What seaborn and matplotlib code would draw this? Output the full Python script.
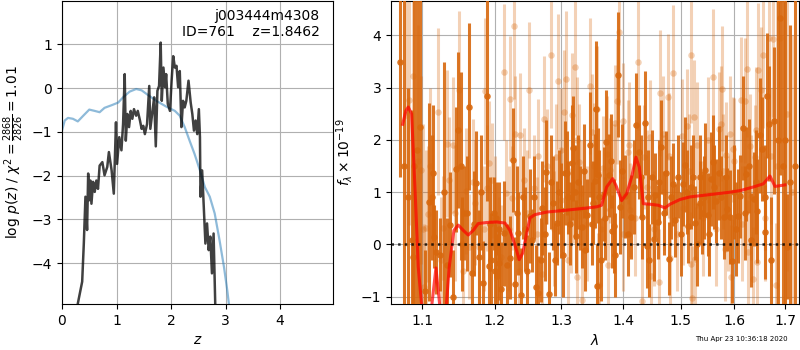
import numpy as np
import pandas as pd
import matplotlib
matplotlib.use("Agg")
import matplotlib.pyplot as plt
import seaborn as sns
from matplotlib.ticker import FixedLocator, FormatStrFormatter, NullLocator

# ---------------- data: redshift PDF panel ----------------
pz_z = [0.25, 0.29, 0.37, 0.40, 0.43, 0.46, 0.48, 0.50, 0.52, 0.54, 0.57, 0.60, 0.63, 0.66,
        0.69, 0.74, 0.78, 0.83, 0.86, 0.91, 0.95, 0.99, 1.01, 1.05, 1.09, 1.12, 1.15, 1.17,
        1.20, 1.23, 1.26, 1.29, 1.32, 1.36, 1.39, 1.43, 1.46, 1.49, 1.52, 1.56, 1.60, 1.62,
        1.66, 1.69, 1.72, 1.75, 1.78, 1.81, 1.83, 1.86, 1.89, 1.91, 1.94, 1.98, 2.01, 2.04,
        2.07, 2.10, 2.13, 2.16, 2.19, 2.22, 2.25, 2.28, 2.32, 2.36, 2.39, 2.42, 2.45, 2.48,
        2.51, 2.53, 2.54, 2.57, 2.60, 2.63, 2.66, 2.69, 2.72, 2.75, 2.78, 2.81, 2.84]
pz_logp = [-6.0, -4.92, -4.42, -3.55, -2.48, -3.24, -1.95, -2.56, -2.11, -2.64, -2.14, -2.37,
           -2.11, -2.30, -1.77, -1.69, -1.99, -1.80, -1.46, -1.88, -2.41, -0.78, -1.73, -1.12,
           -1.42, -0.82, 0.32, -1.20, -0.59, -0.89, -0.52, -0.70, -0.48, -0.63, -0.52, -0.74,
           -0.93, -0.86, -1.05, -0.82, 0.05, -0.93, -0.52, -0.21, -1.33, -0.06, 0.05, 1.04,
           -0.29, 0.47, 0.02, 0.32, -0.36, -0.52, 0.17, 0.73, 0.47, 0.51, 0.02, 0.39, -0.89,
           -0.29, -0.44, -0.29, 0.17, -0.33, -0.59, -0.97, -0.74, -1.05, -0.48, -1.12, -2.48,
           -1.88, -2.71, -3.55, -3.09, -3.70, -3.39, -4.23, -3.32, -4.92, -6.0]

chi_z = [0.0, 0.05, 0.11, 0.20, 0.29, 0.39, 0.50, 0.60, 0.69, 0.78, 0.91, 1.03, 1.12, 1.24,
         1.36, 1.46, 1.58, 1.73, 1.91, 2.07, 2.16, 2.25, 2.34, 2.43, 2.53, 2.62, 2.71, 2.80,
         2.89, 2.97, 3.03, 3.06, 3.12]
chi_logp = [-0.97, -0.74, -0.68, -0.70, -0.76, -0.63, -0.49, -0.52, -0.55, -0.45, -0.39,
            -0.33, -0.21, -0.08, -0.02, -0.05, -0.16, -0.29, -0.42, -0.52, -0.63, -0.89,
            -1.20, -1.50, -1.88, -2.26, -2.48, -2.86, -3.48, -4.08, -4.61, -4.92, -5.5]

# ---------------- data: spectrum panel ----------------
model_wave = [1.0744, 1.0786, 1.0817, 1.0860, 1.0904, 1.0947, 1.0991, 1.1040, 1.1124,
              1.1182, 1.1236, 1.1300, 1.1362, 1.1426, 1.1486, 1.1555, 1.1624, 1.1694,
              1.1765, 1.1883, 1.2027, 1.2148, 1.2221, 1.2294, 1.2358, 1.2408, 1.2468,
              1.2518, 1.2593, 1.2771, 1.3029, 1.3345, 1.3561, 1.3642, 1.3725, 1.3824,
              1.3879, 1.3974, 1.4058, 1.4143, 1.4216, 1.4273, 1.4342, 1.4457, 1.4603,
              1.4720, 1.4809, 1.4987, 1.5168, 1.5413, 1.5662, 1.5915, 1.6107, 1.6367,
              1.6564, 1.6697, 1.6798, 1.7001]
model_flux = [2.30, 2.56, 2.63, 2.50, 1.10, -0.43, -1.14, -1.60, -1.20, -0.45, -1.20,
              -1.60, -0.43, 0.27, 0.37, 0.27, 0.18, 0.27, 0.40, 0.42, 0.43, 0.41, 0.27,
              -0.01, -0.29, -0.17, 0.21, 0.51, 0.57, 0.62, 0.65, 0.69, 0.72, 0.75, 1.10,
              1.26, 1.13, 0.84, 0.97, 1.29, 1.67, 1.48, 0.78, 0.77, 0.75, 0.70, 0.77,
              0.86, 0.91, 0.94, 0.97, 1.00, 1.03, 1.10, 1.16, 1.31, 1.11, 1.14]

# dark (first beam) spectrum points
dark_wave = [1.0715, 1.0757, 1.0817, 1.0861, 1.0880, 1.0895, 1.0930, 1.0974,
             1.1030, 1.1093, 1.1146, 1.1160, 1.1182, 1.1240, 1.1295, 1.1377, 1.1418,
             1.1459, 1.1478, 1.1523, 1.1568, 1.1638, 1.1676, 1.1732, 1.1779, 1.1831,
             1.1884, 1.1913, 1.1945, 1.1983,
             1.2014, 1.2038, 1.2057, 1.2095, 1.2135, 1.2222, 1.2267, 1.2291, 1.2340,
             1.2380, 1.2419, 1.2479, 1.2520, 1.2555, 1.2605, 1.2646, 1.2707, 1.2768,
             1.2809, 1.2845, 1.2896, 1.2937, 1.2990, 1.3052, 1.3084, 1.3110, 1.3162,
             1.3189, 1.3237, 1.3263, 1.3332, 1.3359, 1.3412, 1.3455, 1.3503, 1.3530,
             1.3547, 1.3574,
             1.3584, 1.3633, 1.3676, 1.3721, 1.3759, 1.3814, 1.3842, 1.3908, 1.3942,
             1.4037, 1.4139, 1.4224, 1.4275, 1.4321, 1.4367, 1.4406, 1.4448, 1.4494,
             1.4552, 1.4599, 1.4652, 1.4740, 1.4788, 1.4859, 1.4907, 1.5045, 1.5086,
             1.5140, 1.5195, 1.5256, 1.5360,
             1.5347, 1.5396, 1.5451, 1.5501, 1.5550, 1.5594, 1.5656, 1.5700, 1.5801,
             1.5865, 1.5909, 1.5953, 1.6069, 1.6114, 1.6166, 1.6232, 1.6329, 1.6381,
             1.6446, 1.6492, 1.6539, 1.6593, 1.6645, 1.6672, 1.6713, 1.6773, 1.6895,
             1.7051, 1.6861, 1.6959, 1.7008, 1.7097, 1.7200,
             1.2060, 1.2180, 1.2320, 1.2450, 1.2580, 1.2680, 1.2740, 1.2870, 1.2960,
             1.3020, 1.3130, 1.3210, 1.3300, 1.3380, 1.3480, 1.3600, 1.3700, 1.3790,
             1.3870, 1.3980, 1.4080, 1.4180, 1.4300, 1.4430, 1.4520, 1.4620, 1.4700,
             1.4830, 1.4950, 1.5000, 1.5110, 1.5230, 1.5300, 1.5420, 1.5520, 1.5620,
             1.5750, 1.5840, 1.5990, 1.6030, 1.6200, 1.6280, 1.6420, 1.6600, 1.1130,
             1.1330, 1.1540, 1.1600, 1.1710, 1.1810, 1.1930, 1.2000]
dark_flux = [3.50, 1.50, 0.90, 0.08, -0.24, 1.50, 1.80, 2.25,
             -0.90, 0.81, 1.37, 0.15, -0.14, -0.20, 1.00, 0.38, -1.00,
             1.44, 2.19, 1.50, 0.60, 2.64, -0.54, 1.18, -0.24, -0.73,
             2.84, -0.41, -0.29, 0.60,
             0.50, -0.60, -0.36, -0.85, 0.21, -0.25, 1.62, -0.76, 0.21,
             -0.97, 0.90, -0.51, 0.54, 0.08, -0.82, -0.92, 0.70, 1.39,
             -0.94, 1.20, -0.29, 0.41, 0.65, 1.37, 1.37, 0.90, 1.56,
             1.84, 0.16, 1.20, 0.34, 1.40, 0.56, 1.91, 0.80, 1.22,
             2.60, -0.80,
             1.32, -0.29, 0.97, 1.96, 1.32, 0.25, 0.35, 3.25, 0.71,
             0.92, 0.53, 2.28, 1.77, 0.53, 2.32, -0.03, -0.30, 1.29,
             0.95, 0.43, 1.86, 1.37, -0.27, 1.15, 0.46, 1.16, 1.53,
             0.35, 1.10, 0.41, 0.80,
             1.29, 0.61, 1.43, 0.57, 1.25, 1.58, 0.83, 1.36, 0.52,
             0.67, 0.52, -0.32, 0.54, 0.92, 2.23, 1.34, 0.08, 0.87,
             0.64, 2.09, 1.83, 0.24, 2.85, 2.31, -0.30, 2.37, 4.33,
             -0.04, 2.00, 1.50, 2.00, 1.20, 1.50,
             0.3, -0.4, 0.6, 0.3, 0.9, -0.3, 0.2, 0.8, 1.0,
             -0.2, 0.4, 1.0, 0.7, -0.1, 0.4, 0.9, 0.5, 1.6,
             -0.2, 1.4, 0.2, 1.1, 1.3, 0.9, 0.1, 1.2, 0.6,
             0.9, 1.3, 0.2, 1.0, 1.3, 0.0, 0.9, 0.2, 1.1,
             0.9, 1.3, 1.0, 0.3, 0.6, 1.5, 1.2, 0.9, 0.9,
             -0.4, 0.0, 0.6, 0.4, 1.0, 0.4, -0.5]
dark_err = [2.2, 4.0, 2.1, 2.5, 1.8, 4.0, 3.2, 3.5,
            0.8, 1.9, 1.3, 0.6, 0.8, 0.7, 2.5, 1.0, 0.9,
            1.2, 1.5, 1.8, 0.9, 1.6, 0.9, 1.0, 0.9, 0.8,
            2.0, 0.8, 0.9, 0.7,
            0.7, 0.8, 0.7, 0.9, 1.0, 0.8, 1.0, 0.9, 0.8,
            0.9, 0.8, 0.7, 0.9, 0.6, 0.8, 0.7, 0.9, 1.0,
            0.8, 0.9, 0.7, 0.8, 0.9, 1.0, 0.8, 0.7, 1.1,
            1.0, 0.7, 0.9, 0.8, 0.9, 0.7, 1.0, 0.8, 0.9,
            1.3, 0.8,
            0.9, 0.8, 0.9, 1.0, 0.8, 0.7, 0.9, 1.2, 0.9,
            0.8, 0.8, 1.0, 0.9, 0.8, 1.0, 0.8, 0.7, 0.9,
            0.8, 0.7, 0.9, 0.8, 0.7, 0.8, 0.7, 0.8, 0.9,
            0.7, 0.8, 0.7, 0.8,
            0.8, 0.8, 0.9, 0.8, 0.9, 0.9, 0.8, 0.9, 0.8,
            0.8, 0.9, 0.8, 0.9, 0.8, 1.0, 0.9, 0.9, 0.9,
            1.0, 1.1, 1.0, 0.9, 1.2, 1.1, 1.2, 1.4, 3.0,
            1.0, 4.0, 4.0, 3.5, 3.0, 4.0,
            0.9, 0.8, 0.9, 0.8, 0.8, 0.8, 0.9, 0.9, 0.8,
            0.8, 0.8, 0.9, 0.8, 0.8, 0.8, 0.9, 0.8, 0.9,
            0.8, 0.9, 0.8, 0.9, 0.8, 0.9, 0.8, 0.8, 0.8,
            0.8, 0.8, 0.8, 0.8, 0.8, 0.8, 0.8, 0.8, 0.8,
            0.8, 0.8, 0.9, 0.9, 0.9, 0.9, 1.0, 1.0, 1.2,
            0.9, 0.9, 1.1, 1.0, 1.1, 0.9, 0.9]

# light (second beam) spectrum points
light_wave = [1.0787, 1.0830, 1.0874, 1.0947, 1.1004,
              1.0983, 1.1027, 1.1049, 1.1080, 1.1213, 1.1282, 1.1327, 1.1363, 1.1413,
              1.1500, 1.1593, 1.1630, 1.1686, 1.1780, 1.1865, 1.1889, 1.1922, 1.1960,
              1.2127, 1.2227, 1.2281, 1.2296, 1.2370, 1.2434, 1.2504, 1.2580, 1.2646,
              1.2737, 1.2845, 1.2917, 1.2948, 1.2990, 1.3042, 1.3078, 1.3162, 1.3189,
              1.3221, 1.3279, 1.3306, 1.3455, 1.3493, 1.3558, 1.2161, 1.2257, 1.2086,
              1.2707, 1.3332, 1.3242, 1.3146, 1.3585,
              1.3568, 1.3660, 1.3731, 1.3786, 1.3870, 1.3897, 1.3925, 1.3998, 1.4076,
              1.4121, 1.4258, 1.4350, 1.4466, 1.4483, 1.4611, 1.4640, 1.4687, 1.4776,
              1.4871, 1.5027, 1.5106, 1.5184, 1.5233, 1.5178, 1.5256, 1.5208, 1.4321,
              1.3595, 1.4817,
              1.5594, 1.5700, 1.5738, 1.5763, 1.5845, 1.5909, 1.5972, 1.6120, 1.6200,
              1.6251, 1.6310, 1.6394, 1.6466, 1.6525, 1.6558, 1.6679, 1.6760, 1.6895,
              1.6361, 1.6446, 1.6827, 1.5941, 1.5813, 1.6264,
              1.6830, 1.7040, 1.7150,
              1.1100, 1.1250, 1.1440, 1.1550, 1.1720, 1.1840, 1.2000, 1.2060, 1.2200,
              1.2350, 1.2480, 1.2620, 1.2780, 1.2880, 1.3000, 1.3100, 1.3250, 1.3400,
              1.3520, 1.3640, 1.3750, 1.3840, 1.4000, 1.4100, 1.4200, 1.4400, 1.4530,
              1.4700, 1.4800, 1.4930, 1.5050, 1.5150, 1.5300, 1.5400, 1.5500, 1.5650,
              1.5780, 1.5880, 1.6000, 1.6150, 1.6320, 1.6420, 1.6600, 1.6720]
light_flux = [2.47, 2.77, 3.23, 1.60, 0.30,
              1.43, -0.81, 0.31, 0.58, 2.54, 0.31, 1.93, 1.23, 1.90,
              2.96, 1.02, -0.04, 1.20, -0.04, 2.94, 1.08, 1.55, 1.23,
              3.30, 2.79, 4.19, 2.12, 2.09, 1.23, 2.95, 1.09, 1.69,
              2.40, 3.63, 1.68, 3.12, 0.85, 2.53, 3.16, 2.47, 1.02,
              3.40, 1.58, 0.99, 3.04, 2.16, 2.60, 0.99, 0.89, -0.24,
              -0.57, -1.06, -0.62, 0.46, -0.79,
              2.60, 1.46, 1.74, 1.42, 2.33, 2.74, 4.06, 2.37, 1.77,
              0.66, 3.49, 1.67, 2.05, -0.60, -0.71, 2.90, 2.12, 2.82,
              3.28, 2.07, 2.26, 3.63, 2.44, -0.38, -0.28, -1.03, -1.09,
              -0.78, -0.25,
              3.21, 2.21, 2.31, 2.98, 1.72, 2.12, 1.82, 2.77, 2.75,
              3.36, 1.88, 1.67, 3.33, 2.96, 3.63, 3.95, 3.94, 3.95,
              -0.67, -0.33, -0.78, -0.63, -0.08, -0.14,
              1.50, 2.50, 1.00,
              1.5, -0.3, 0.6, -0.5, 0.8, 0.3, 0.5, -0.3, 0.3,
              -0.5, 0.6, 0.2, 1.5, 0.3, 1.8, -0.3, 2.0, 0.4,
              1.5, 0.3, -0.4, 1.1, 0.2, 1.9, 0.5, 1.1, 0.3,
              1.0, 1.7, 0.2, 0.7, 1.4, 1.9, 0.5, 2.0, 0.3,
              1.4, 0.6, 1.6, 0.4, 0.9, 2.2, 0.5, 1.7]
light_err = [2.5, 2.4, 2.8, 2.6, 2.0,
             1.8, 1.2, 1.5, 1.3, 1.6, 1.0, 1.4, 1.2, 1.3,
             1.5, 1.2, 1.0, 1.2, 1.1, 1.4, 1.2, 1.2, 1.1,
             1.3, 1.2, 1.4, 1.1, 1.2, 1.0, 1.3, 1.0, 1.1,
             1.2, 1.4, 1.0, 1.3, 1.0, 1.2, 1.3, 1.2, 1.0,
             1.3, 1.1, 1.0, 1.3, 1.1, 1.2, 1.0, 1.0, 1.0,
             1.0, 1.0, 1.0, 1.0, 1.0,
             1.2, 1.0, 1.1, 1.0, 1.1, 1.2, 1.4, 1.1, 1.0,
             0.9, 1.3, 1.0, 1.1, 1.0, 1.0, 1.2, 1.1, 1.2,
             1.3, 1.1, 1.1, 1.3, 1.1, 1.0, 1.0, 1.0, 1.0,
             1.0, 1.0,
             1.3, 1.1, 1.1, 1.2, 1.0, 1.1, 1.0, 1.2, 1.2,
             1.3, 1.0, 1.0, 1.3, 1.2, 1.4, 1.5, 1.5, 2.0,
             1.0, 1.0, 1.2, 1.0, 1.0, 1.0,
             3.5, 3.0, 3.0,
             1.5, 1.2, 1.3, 1.2, 1.2, 1.2, 1.2, 1.2, 1.2,
             1.1, 1.2, 1.1, 1.1, 1.1, 1.2, 1.1, 1.2, 1.1,
             1.2, 1.1, 1.1, 1.2, 1.1, 1.2, 1.1, 1.1, 1.1,
             1.1, 1.2, 1.1, 1.1, 1.1, 1.2, 1.1, 1.2, 1.1,
             1.1, 1.1, 1.2, 1.1, 1.2, 1.2, 1.2, 1.3]

wave_ticks = [1.1, 1.2, 1.3, 1.4, 1.5, 1.6, 1.7]
z_ticks = [0, 1, 2, 3, 4]
logp_ticks = [-4, -3, -2, -1, 0, 1]
flux_ticks = [-1, 0, 1, 2, 3, 4]

# ---------------- figure ----------------
fig = plt.figure(figsize=(8, 3.5), dpi=100)
ax1 = fig.add_axes([62/800, 46/350, 271/800, 303/350])
ax2 = fig.add_axes([391/800, 46/350, 408/800, 303/350])

pz_df = pd.DataFrame({"z": pz_z, "logp": pz_logp})
chi_df = pd.DataFrame({"z": chi_z, "logp": chi_logp})
sns.lineplot(data=chi_df, x="z", y="logp", ax=ax1, color="tab:blue", alpha=0.5,
             lw=1.6, sort=False, estimator=None)
sns.lineplot(data=pz_df, x="z", y="logp", ax=ax1, color="black", alpha=0.75,
             lw=1.8, sort=False, estimator=None)
ax1.set_xlim(0, 4.97)
ax1.set_ylim(-4.93, 1.99)
ax1.set_xticks(z_ticks)
ax1.set_yticks(logp_ticks)
ax1.grid(True)
ax1.set_xlabel(r"$z$")
ax1.set_ylabel(r"log $p(z)$ / $\chi^2=\frac{2868}{2826}=1.01$")
ax1.text(0.95, 0.975, "j003444m4308\nID=761    z=1.8462", transform=ax1.transAxes,
         ha="right", va="top", fontsize=10)

spec_color = "#d8680e"
ax2.errorbar(light_wave, light_flux, yerr=light_err, fmt="none", ecolor=spec_color,
             alpha=0.3, elinewidth=2.2, zorder=2)
sns.scatterplot(x=light_wave, y=light_flux, ax=ax2, color=spec_color, alpha=0.3,
                s=22, linewidth=0, zorder=2)
ax2.errorbar(dark_wave, dark_flux, yerr=dark_err, fmt="none", ecolor=spec_color,
             alpha=0.9, elinewidth=2.2, zorder=3)
sns.scatterplot(x=dark_wave, y=dark_flux, ax=ax2, color=spec_color, alpha=0.9,
                s=22, linewidth=0, zorder=3)
model_df = pd.DataFrame({"wave": model_wave, "flux": model_flux})
sns.lineplot(data=model_df, x="wave", y="flux", ax=ax2, color="red", alpha=0.7, lw=2.2,
             sort=False, estimator=None, zorder=4)
ax2.axhline(0, color="black", ls=":", lw=1.8, alpha=0.8, zorder=5)

ax2.set_xscale("log")
ax2.set_xlim(1.0595, 1.7289)
ax2.set_ylim(-1.14, 4.66)
ax2.xaxis.set_major_locator(FixedLocator(wave_ticks))
ax2.xaxis.set_major_formatter(FormatStrFormatter("%.1f"))
ax2.xaxis.set_minor_locator(NullLocator())
ax2.set_yticks(flux_ticks)
ax2.grid(True)
ax2.set_axisbelow(True)
ax2.set_xlabel(r"$\lambda$")
ax2.set_ylabel(r"$f_\lambda \times 10^{-19}$")

fig.text(0.984, 0.022, "Thu Apr 23 10:36:18 2020", ha="right", va="bottom", fontsize=5)

fig.savefig("out.png", dpi=100)
